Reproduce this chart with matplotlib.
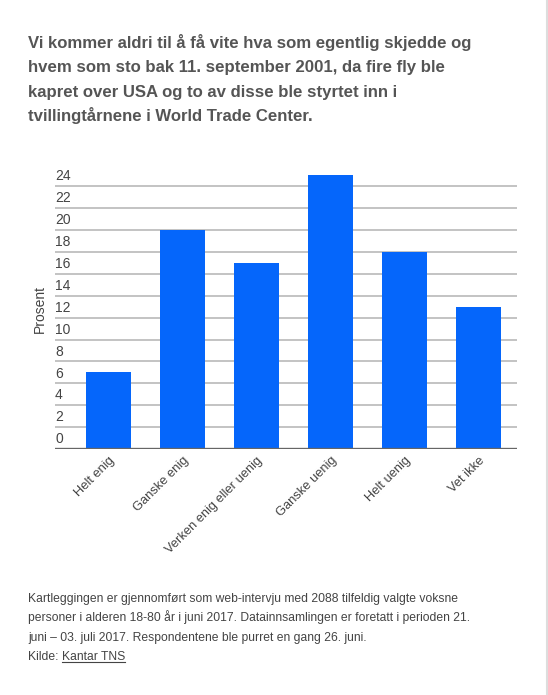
import numpy as np
import matplotlib
matplotlib.use("Agg")
import matplotlib.pyplot as plt
from matplotlib.lines import Line2D
from matplotlib.transforms import blended_transform_factory

plt.rcParams['font.family'] = ['Liberation Sans', 'DejaVu Sans']

# data
categories = ["Helt enig", "Ganske enig", "Verken enig eller uenig",
              "Ganske uenig", "Helt uenig", "Vet ikke"]
prosent = [7, 20, 17, 25, 18, 13]
yticks = list(range(0, 25, 2))

title_lines = ["Vi kommer aldri til å få vite hva som egentlig skjedde og",
               "hvem som sto bak 11. september 2001, da fire fly ble",
               "kapret over USA og to av disse ble styrtet inn i",
               "tvillingtårnene i World Trade Center."]
note_lines = ["Kartleggingen er gjennomført som web-intervju med 2088 tilfeldig valgte voksne",
              "personer i alderen 18-80 år i juni 2017. Datainnsamlingen er foretatt i perioden 21.",
              "juni – 03. juli 2017. Respondentene ble purret en gang 26. juni."]

W, H = 548, 695
fig = plt.figure(figsize=(W / 100, H / 100), dpi=100)

# axes placed in pixel terms
ax_left, ax_right = 55, 517
ax_bottom = 449
ymax = 25.1
px_per_unit = 10.95
ax_top = ax_bottom - ymax * px_per_unit
ax = fig.add_axes([ax_left / W, (H - ax_bottom) / H,
                   (ax_right - ax_left) / W, (ax_bottom - ax_top) / H])

x = np.arange(len(categories))
ax.bar(x, prosent, width=0.61, color='#0566fb', zorder=3)

step = 74.0
ax.set_xlim((ax_left - 108.5) / step, (ax_right - 108.5) / step)
ax.set_ylim(0, ymax)

for s in ax.spines.values():
    s.set_visible(False)
for v in yticks[1:]:
    ax.axhline(v, color='#b9b9b9', lw=1.2, zorder=1)
ax.axhline(0, color='#666666', lw=2.4, zorder=4)

trans = blended_transform_factory(ax.transAxes, ax.transData)
for v in yticks:
    ax.text(0.0, v + 0.25, str(v), transform=trans, ha='left', va='bottom',
            fontsize=10, color='#444444', zorder=5)

ax.set_yticks([])
ax.set_xticks(x)
ax.set_xticklabels(categories, rotation=45, ha='right', rotation_mode='anchor',
                   fontsize=9.3, color='#444444')
ax.tick_params(axis='x', length=0, pad=4)

fig.text(40 / W, 1 - 309 / H, "Prosent", rotation=90, ha='center', va='center',
         fontsize=10, color='#444444')

# title
for i, line in enumerate(title_lines):
    fig.text(28 / W, 1 - (48 + i * 24.4) / H, line, fontsize=12.1, fontweight='bold',
             color='#555555', ha='left', va='baseline')

# footnote
fs = 8.75
for i, line in enumerate(note_lines):
    fig.text(28 / W, 1 - (602 + i * 19.3) / H, line, fontsize=fs,
             color='#444444', ha='left', va='baseline')
kilde = fig.text(28 / W, 1 - (602 + 3 * 19.3) / H, "Kilde: ", fontsize=fs,
                 color='#444444', ha='left', va='baseline')
fig.canvas.draw()
bb = kilde.get_window_extent()
link = fig.text(bb.x1 / W, 1 - (602 + 3 * 19.3) / H, "Kantar TNS", fontsize=fs,
                color='#444444', ha='left', va='baseline')
fig.canvas.draw()
lb = link.get_window_extent()
uy = (H - (602 + 3 * 19.3) - 2) / H
fig.add_artist(Line2D([lb.x0 / W, lb.x1 / W], [uy, uy], color='#444444', lw=0.8))

# right edge border
fig.add_artist(Line2D([546.5 / W, 546.5 / W], [0, 1], color='#dddddd', lw=1.5))

fig.savefig("out.png", dpi=100)
